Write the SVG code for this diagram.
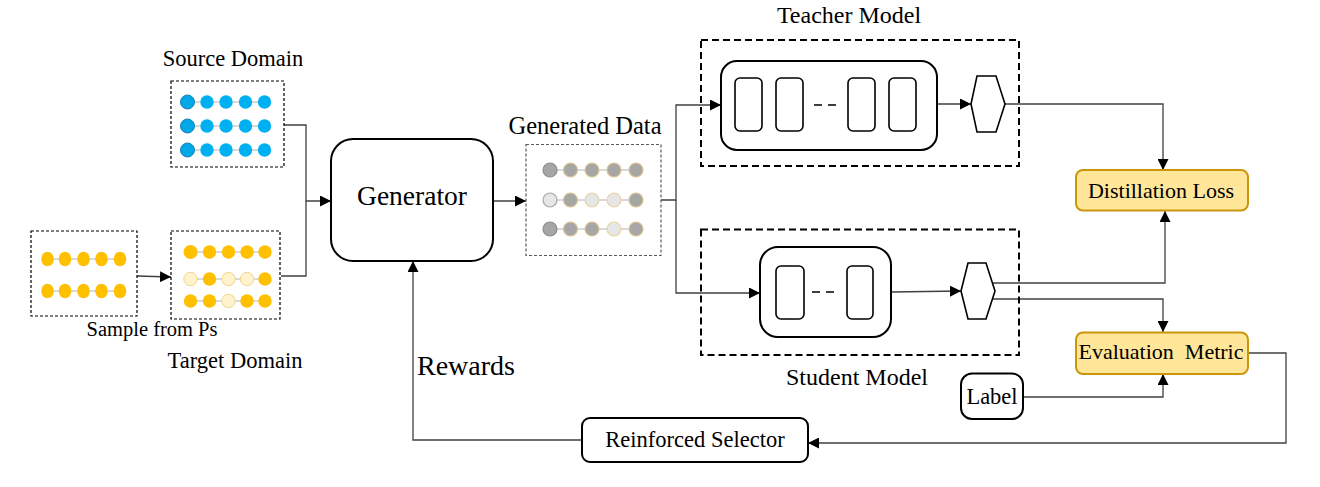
<svg xmlns="http://www.w3.org/2000/svg" width="1320" height="487" viewBox="0 0 1320 487">
<defs>
<marker id="ah" viewBox="0 0 10 10" refX="10" refY="5" markerWidth="11" markerHeight="11" markerUnits="userSpaceOnUse" orient="auto">
<path d="M0,0 L10,5 L0,10 z" fill="#000"/>
</marker>
</defs>
<style>
text{font-family:'Liberation Serif','DejaVu Serif',serif;fill:#000;}
.t{text-anchor:middle;}
.dsm{fill:none;stroke:#000;stroke-width:1.2;stroke-dasharray:3 2;}
.dgr{fill:none;stroke:#595959;stroke-width:1.2;stroke-dasharray:3 2;}
.dbig{fill:none;stroke:#000;stroke-width:2;stroke-dasharray:7 4;}
.box{fill:#fff;stroke:#000;stroke-width:2;}
.inner{fill:#fff;stroke:#000;stroke-width:1.6;}
.yel{fill:#ffe699;stroke:#c9960c;stroke-width:2;}
.ln{fill:none;stroke:#404040;stroke-width:1.3;}
.lk{stroke:#d9d9d9;stroke-width:2;}
.b{fill:#00b0f0;}
.b1{fill:#00a8e8;stroke:#1a7fb0;stroke-width:1;}
.y{fill:#ffc000;}
.yp{fill:#fff2cc;stroke:#f0d68c;stroke-width:1;}
.g1{fill:#a6a6a6;stroke:#8c8c8c;stroke-width:1.2;}
.g{fill:#a6a6a6;stroke:#dcc48e;stroke-width:1.2;}
.gl1{fill:#e7e6e6;stroke:#a6a6a6;stroke-width:1.2;}
.gl{fill:#e7e6e6;stroke:#e8d4a4;stroke-width:1.2;}
</style>

<g id="connectors">
<path class="ln" d="M137,276 L171,277" marker-end="url(#ah)"/>
<path class="ln" d="M284,125 L306,125 L306,201 L331,201" marker-end="url(#ah)"/>
<path class="ln" d="M281,276 L306,276 L306,201"/>
<path class="ln" d="M493,201 L526,201" marker-end="url(#ah)"/>
<path class="ln" d="M661,200 L676,200 L676,105 L721,105" marker-end="url(#ah)"/>
<path class="ln" d="M676,200 L676,293 L760,293" marker-end="url(#ah)"/>
<path class="ln" d="M937,104 L971,104" marker-end="url(#ah)"/>
<path class="ln" d="M891,292 L961,291" marker-end="url(#ah)"/>
<path class="ln" d="M1005,104 L1163,104 L1163,170" marker-end="url(#ah)"/>
<path class="ln" d="M990,283 L1165,283 L1165,211" marker-end="url(#ah)"/>
<path class="ln" d="M990,299 L1163,299 L1163,332" marker-end="url(#ah)"/>
<path class="ln" d="M1023,397 L1163,397 L1163,374" marker-end="url(#ah)"/>
<path class="ln" d="M1248,353 L1286,353 L1286,443 L808,443" marker-end="url(#ah)"/>
<path class="ln" d="M582,440 L413,440 L413,261" marker-end="url(#ah)"/>
</g>

<g id="source-domain">
<text class="t" x="233" y="66" font-size="22.5" font-family="Liberation Serif, serif">Source Domain</text>
<rect class="dsm" x="171" y="81" width="113" height="86"/>
<g>
<line class="lk" x1="187" y1="102" x2="264" y2="102"/>
<line class="lk" x1="187" y1="126" x2="264" y2="126"/>
<line class="lk" x1="187" y1="150" x2="264" y2="150"/>
</g>
<circle class="b1" cx="187.5" cy="102" r="7"/><circle class="b" cx="207" cy="102" r="6.7"/><circle class="b" cx="226" cy="102" r="6.7"/><circle class="b" cx="245.5" cy="102" r="6.7"/><circle class="b" cx="264.5" cy="102" r="6.7"/>
<circle class="b1" cx="187.5" cy="126" r="7"/><circle class="b" cx="207" cy="126" r="6.7"/><circle class="b" cx="226" cy="126" r="6.7"/><circle class="b" cx="245.5" cy="126" r="6.7"/><circle class="b" cx="264.5" cy="126" r="6.7"/>
<circle class="b1" cx="187.5" cy="150" r="7"/><circle class="b" cx="207" cy="150" r="6.7"/><circle class="b" cx="226" cy="150" r="6.7"/><circle class="b" cx="245.5" cy="150" r="6.7"/><circle class="b" cx="264.5" cy="150" r="6.7"/>
</g>

<g id="sample">
<rect class="dsm" x="31" y="231" width="106" height="85"/>
<line class="lk" x1="47" y1="259" x2="120" y2="259"/>
<line class="lk" x1="47" y1="291" x2="120" y2="291"/>
<ellipse class="y" cx="47.5" cy="259" rx="6.3" ry="7.3"/><ellipse class="y" cx="65" cy="259" rx="6.3" ry="7.3"/><ellipse class="y" cx="83.5" cy="259" rx="6.3" ry="7.3"/><ellipse class="y" cx="101.5" cy="259" rx="6.3" ry="7.3"/><ellipse class="y" cx="120" cy="259" rx="6.3" ry="7.3"/>
<ellipse class="y" cx="47.5" cy="291" rx="6.3" ry="7.3"/><ellipse class="y" cx="65" cy="291" rx="6.3" ry="7.3"/><ellipse class="y" cx="83.5" cy="291" rx="6.3" ry="7.3"/><ellipse class="y" cx="101.5" cy="291" rx="6.3" ry="7.3"/><ellipse class="y" cx="120" cy="291" rx="6.3" ry="7.3"/>
<text class="t" x="152" y="336" font-size="20.5">Sample from Ps</text>
</g>

<g id="target-domain">
<rect class="dsm" x="171" y="231" width="109" height="88"/>
<line class="lk" x1="190" y1="252" x2="265" y2="252"/>
<line class="lk" x1="190" y1="279" x2="265" y2="279"/>
<line class="lk" x1="190" y1="301" x2="265" y2="301"/>
<circle class="y" cx="190.5" cy="252" r="7"/><circle class="y" cx="209.5" cy="252" r="6.7"/><circle class="y" cx="228.5" cy="252" r="6.7"/><circle class="y" cx="247" cy="252" r="6.7"/><circle class="y" cx="265" cy="252" r="6.7"/>
<circle class="yp" cx="190.5" cy="279" r="6.7"/><circle class="y" cx="209.5" cy="279" r="6.7"/><circle class="yp" cx="228.5" cy="279" r="6.7"/><circle class="yp" cx="247" cy="279" r="6.7"/><circle class="y" cx="265" cy="279" r="6.7"/>
<circle class="y" cx="190.5" cy="301" r="6.7"/><circle class="y" cx="209.5" cy="301" r="6.7"/><circle class="yp" cx="228.5" cy="301" r="6.7"/><circle class="y" cx="247" cy="301" r="6.7"/><circle class="y" cx="265" cy="301" r="6.7"/>
<text class="t" x="235" y="368" font-size="22.5">Target Domain</text>
</g>

<g id="generator">
<rect class="box" x="331" y="139" width="162" height="122" rx="22"/>
<text class="t" x="412" y="205" font-size="27.5">Generator</text>
</g>

<g id="generated-data">
<text class="t" x="585" y="134" font-size="24.5">Generated Data</text>
<rect class="dgr" x="526" y="144.5" width="135" height="111"/>
<line class="lk" x1="550" y1="170" x2="636" y2="170"/>
<line class="lk" x1="550" y1="200" x2="636" y2="200"/>
<line class="lk" x1="550" y1="229" x2="636" y2="229"/>
<circle class="g1" cx="550" cy="170" r="7"/><circle class="g" cx="570.5" cy="170" r="7"/><circle class="g" cx="592" cy="170" r="7"/><circle class="g" cx="614" cy="170" r="7"/><circle class="g" cx="636" cy="170" r="7"/>
<circle class="gl1" cx="550" cy="200" r="7"/><circle class="g" cx="570.5" cy="200" r="7"/><circle class="gl" cx="592" cy="200" r="7"/><circle class="gl" cx="614" cy="200" r="7"/><circle class="g" cx="636" cy="200" r="7"/>
<circle class="g1" cx="550" cy="229" r="7"/><circle class="g" cx="570.5" cy="229" r="7"/><circle class="g" cx="592" cy="229" r="7"/><circle class="gl" cx="614" cy="229" r="7"/><circle class="g" cx="636" cy="229" r="7"/>
</g>

<g id="teacher-model">
<text class="t" x="849" y="23" font-size="24">Teacher Model</text>
<rect class="dbig" x="701" y="40" width="318" height="126"/>
<rect class="box" x="721" y="61" width="216" height="89" rx="16"/>
<rect class="inner" x="735" y="78" width="27" height="53" rx="5"/>
<rect class="inner" x="776" y="78" width="27" height="53" rx="5"/>
<line x1="814" y1="105" x2="837" y2="105" stroke="#000" stroke-width="1.6" stroke-dasharray="8 6"/>
<rect class="inner" x="848" y="78" width="27" height="53" rx="5"/>
<rect class="inner" x="889" y="78" width="27" height="53" rx="5"/>
<polygon class="inner" points="977,76 996,76 1005,104 996,132 977,132 971,104"/>
</g>

<g id="student-model">
<rect class="dbig" x="701" y="229.5" width="318" height="125.5"/>
<rect class="box" x="760" y="247" width="131" height="90" rx="18"/>
<rect class="inner" x="776" y="266" width="28" height="53" rx="5"/>
<line x1="812" y1="292" x2="835" y2="292" stroke="#000" stroke-width="1.6" stroke-dasharray="8 6"/>
<rect class="inner" x="847" y="266" width="26" height="53" rx="5"/>
<polygon class="inner" points="968,263 986,263 995,291 986,319 968,319 961,291"/>
<text class="t" x="857" y="385" font-size="24">Student Model</text>
</g>

<g id="distillation-loss">
<rect class="yel" x="1076" y="170" width="172" height="40.5" rx="7"/>
<text class="t" x="1161" y="198" font-size="22">Distillation Loss</text>
</g>

<g id="evaluation-metric">
<rect class="yel" x="1076" y="332.5" width="172" height="41.5" rx="7"/>
<text class="t" x="1161" y="358.5" font-size="22" style="white-space:pre">Evaluation  Metric</text>
</g>

<g id="label">
<rect class="box" x="961" y="373.5" width="62" height="45.5" rx="11"/>
<text class="t" x="992" y="403.5" font-size="22.5">Label</text>
</g>

<g id="reinforced-selector">
<rect class="box" x="582" y="418" width="226" height="44" rx="8"/>
<text class="t" x="695" y="447" font-size="22.5">Reinforced Selector</text>
</g>

<g id="rewards">
<text x="417" y="375" font-size="28">Rewards</text>
</g>
</svg>
